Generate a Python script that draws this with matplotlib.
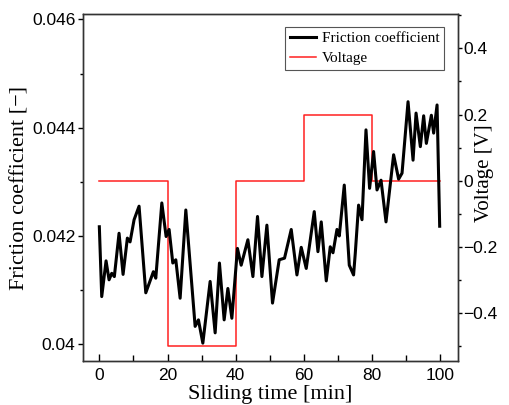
import numpy as np
import matplotlib
matplotlib.use('Agg')
import matplotlib.pyplot as plt
from matplotlib.ticker import MultipleLocator

# Datos

tiempo = [0, 0.70, 1.97, 2.85, 3.64, 4.40, 5.78, 6.96, 8.22, 9.01, 10.19, 11.65,
          13.62, 15.85, 16.55, 18.32, 19.58, 20.46, 21.54, 22.42, 23.69, 25.36,
          28.09, 29.06, 30.35, 32.49, 33.96, 35.22, 36.60, 37.69, 38.86, 40.50,
          41.59, 43.56, 45.03, 46.38, 47.67, 49.13, 50.78, 52.74, 54.30, 56.27,
          57.94, 59.20, 60.67, 63.02, 64.10, 65.07, 66.54, 67.71, 68.51, 69.68,
          70.36, 71.82, 73.29, 74.55, 75.05, 76.02, 77.02, 78.19, 79.25, 80.42,
          81.42, 82.60, 84.06, 86.29, 87.76, 88.76, 90.52, 91.99, 92.87, 94.13,
          95.10, 95.89, 97.36, 98.03, 99.03, 99.80]

friccion = [0.04217, 0.04088, 0.04154, 0.04119, 0.04131, 0.04125, 0.04205, 0.04129,
            0.04196, 0.04189, 0.04230, 0.04255, 0.04095, 0.04134, 0.04122, 0.04261,
            0.04199, 0.04212, 0.04150, 0.04156, 0.04085, 0.04248, 0.04033, 0.04045,
            0.04002, 0.04116, 0.04021, 0.04150, 0.04045, 0.04103, 0.04048, 0.04177,
            0.04146, 0.04193, 0.04125, 0.04236, 0.04125, 0.04220, 0.04076, 0.04156,
            0.04159, 0.04212, 0.04128, 0.04179, 0.04140, 0.04245, 0.04171, 0.04226,
            0.04117, 0.04180, 0.04169, 0.04212, 0.04200, 0.04294, 0.04146, 0.04128,
            0.04168, 0.04257, 0.04230, 0.04396, 0.04288, 0.04356, 0.04285, 0.04303,
            0.04226, 0.04350, 0.04305, 0.04316, 0.04448, 0.04340, 0.04427, 0.04365,
            0.04422, 0.04371, 0.04423, 0.04390, 0.04442, 0.04218]

tiempo_v = [0, 20, 40, 60, 80, 100]
voltaje = [0, -0.5, 0, 0.2, 0, 0]

serif = ['Liberation Serif', 'DejaVu Serif']
sans = ['Liberation Sans', 'DejaVu Sans']
plt.rcParams['font.family'] = sans

fig = plt.figure(figsize=(5.09, 4.05), dpi=100)
ax1 = fig.add_axes([0.163, 0.1086, 0.737, 0.8568])
ax2 = ax1.twinx()

ax2.step(tiempo_v, voltaje, where='post', color='#ff2020', lw=1.1, label='Voltage')
ax1.plot(tiempo, friccion, color='black', lw=2.2, label='Friction coefficient',
         solid_joinstyle='round')

# el eje 1 por encima del eje 2
ax1.set_zorder(ax2.get_zorder() + 1)
ax1.patch.set_visible(False)

ax1.set_xlim(-4.8, 105.2)
ax1.set_ylim(0.03969, 0.0461)
ax2.set_ylim(-0.544, 0.5035)

ax1.set_xticks([0, 20, 40, 60, 80, 100])
ax1.xaxis.set_minor_locator(MultipleLocator(10))
ax1.set_yticks([0.04, 0.042, 0.044, 0.046])
ax1.set_yticklabels(['0.04', '0.042', '0.044', '0.046'])
ax1.yaxis.set_minor_locator(MultipleLocator(0.001))
ax2.set_yticks([-0.4, -0.2, 0, 0.2, 0.4])
ax2.set_yticklabels(['\u22120.4', '\u22120.2', '0', '0.2', '0.4'])
ax2.yaxis.set_minor_locator(MultipleLocator(0.1))

ax1.tick_params(axis='x', which='major', direction='in', length=5, width=1, pad=5, labelsize=12.5)
ax1.tick_params(axis='x', which='minor', direction='in', length=4, width=1)
ax1.tick_params(axis='y', which='major', direction='out', length=3.5, width=1, pad=2, labelsize=12.5)
ax1.tick_params(axis='y', which='minor', direction='out', length=2, width=1)
ax2.tick_params(axis='y', which='major', direction='out', length=3, width=1, pad=0.5, labelsize=12.5)
ax2.tick_params(axis='y', which='minor', direction='out', length=2, width=1)

for ax in (ax1, ax2):
    for s in ax.spines.values():
        s.set_color('#333333')
        s.set_linewidth(1)

ax1.set_xlabel('Sliding time [min]', fontsize=16, family=serif)
ax1.set_ylabel('Friction coefficient [\u2212]', fontsize=16, family=serif)
ax2.set_ylabel('Voltage [V]', fontsize=15, family=serif, rotation=90)
ax1.xaxis.set_label_coords(0.5, -0.07)
ax1.yaxis.set_label_coords(-0.168, 0.5)
ax2.yaxis.set_label_coords(1.07, 0.542)
ax2.yaxis.label.set_va('center')
ax1.yaxis.label.set_va('center')

h1, l1 = ax1.get_legend_handles_labels()
h2, l2 = ax2.get_legend_handles_labels()
leg = ax1.legend(h1 + h2, l1 + l2, loc='upper right', bbox_to_anchor=(0.963, 0.9625),
                 borderaxespad=0, fancybox=False, framealpha=1, edgecolor='#555555',
                 prop={'family': serif, 'size': 11}, handlelength=1.7, handletextpad=0.4,
                 borderpad=0.3, labelspacing=0.4)
leg.get_frame().set_linewidth(0.8)

fig.savefig('out.png', dpi=100)
